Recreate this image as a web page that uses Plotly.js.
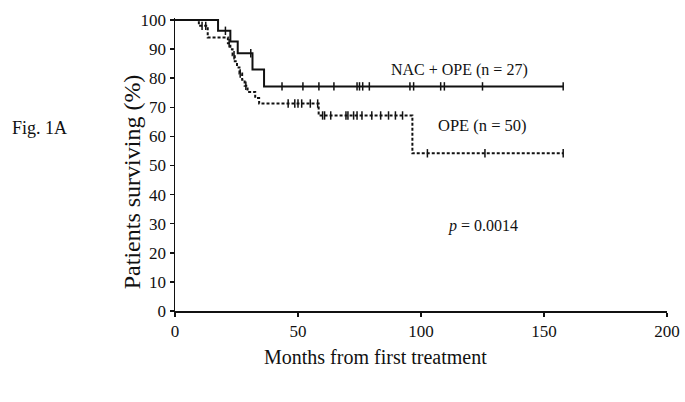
<!DOCTYPE html>
<html>
<head>
<meta charset="utf-8">
<script src="https://cdn.plot.ly/plotly-3.0.1.min.js"></script>
<style>html,body{margin:0;padding:0;background:#fff;}#chart{width:685px;height:402px;}</style>
</head>
<body>
<div id="chart"></div>
<script>
// Kaplan-Meier step data (months, % surviving)
const nacMonths = [0, 17.5, 22.5, 25.5, 31.5, 36.2, 157.8];
const nacSurv   = [100, 96.3, 92.6, 88.6, 83.0, 77.2, 77.2];
const nacCensored = [20.5, 30.8, 43.5, 52, 58.5, 64.6, 74, 75, 76.3, 79, 95.5, 97, 108, 109.5, 125, 157.8];

const opeMonths = [0, 9.7, 13.3, 21.5, 22.5, 23.4, 24.3, 25.2, 26.2, 27.3, 28.3, 29.5, 32.6, 34.2, 58.4, 96.5, 157.8];
const opeSurv   = [100, 98, 94, 92, 90, 87.9, 85.8, 83.7, 81.6, 79.5, 77.4, 75.3, 73.2, 71.3, 67.2, 54.2, 54.2];
const opeCensored = [11, 12.5, 22, 24, 26.5, 28.8, 46, 48.7, 50, 51.5, 55, 58, 60, 60.8, 63.3, 69.5, 70.3, 72.6, 74, 76, 80, 83.6, 86.8, 89.6, 92.5, 102.6, 126, 157.8];

const xTicks = [0, 50, 100, 150, 200];
const yTicks = [0, 10, 20, 30, 40, 50, 60, 70, 80, 90, 100];

function stepAt(months, surv, t) {
  let v = surv[0];
  for (let i = 0; i < months.length; i++) { if (months[i] <= t) v = surv[i]; }
  return v;
}

const FONT = 'Liberation Serif, Times New Roman, serif';
const INK = '#111';

const traces = [
  {x: nacMonths, y: nacSurv, mode: 'lines', line: {shape: 'hv', color: INK, width: 2}, name: 'NAC + OPE', hoverinfo: 'skip'},
  {x: nacCensored, y: nacCensored.map(t => stepAt(nacMonths, nacSurv, t)), mode: 'markers',
   marker: {symbol: 'line-ns', size: 6, line: {width: 1.5, color: INK}}, hoverinfo: 'skip'},
  {x: opeMonths, y: opeSurv, mode: 'lines', line: {shape: 'hv', color: INK, width: 2, dash: '3px,2px'}, name: 'OPE', hoverinfo: 'skip'},
  {x: opeCensored, y: opeCensored.map(t => stepAt(opeMonths, opeSurv, t)), mode: 'markers',
   marker: {symbol: 'line-ns', size: 6, line: {width: 1.5, color: INK}}, hoverinfo: 'skip'}
];

const layout = {
  width: 685, height: 402,
  margin: {l: 175, r: 18, t: 18, b: 91},
  paper_bgcolor: '#fff', plot_bgcolor: '#fff',
  showlegend: false,
  font: {family: FONT, color: INK},
  xaxis: {
    range: [0, 200], tickvals: xTicks, ticktext: xTicks.map(String),
    showline: true, linecolor: INK, linewidth: 1.5,
    ticks: 'outside', ticklen: 4, tickwidth: 1.5, tickcolor: INK,
    ticklabelstandoff: 0,
    showgrid: false, zeroline: false,
    tickfont: {family: FONT, size: 17, color: INK}
  },
  yaxis: {
    range: [0, 100.7], tickvals: yTicks, ticktext: yTicks.map(String),
    showline: true, linecolor: INK, linewidth: 1.5,
    ticks: 'outside', ticklen: 4, tickwidth: 1.5, tickcolor: INK,
    ticklabelstandoff: 0,
    showgrid: false, zeroline: false,
    tickfont: {family: FONT, size: 17, color: INK}
  },
  annotations: [
    {text: 'Months from first treatment', x: 0.4085, y: -0.158, xref: 'paper', yref: 'paper', xanchor: 'center', yanchor: 'middle', showarrow: false, font: {family: FONT, size: 20, color: INK}},
    {text: 'Patients surviving (%)', x: -0.087, y: 0.44, xref: 'paper', yref: 'paper', xanchor: 'center', yanchor: 'middle', textangle: -90, showarrow: false, font: {family: FONT, size: 24, color: INK}},
    {text: 'NAC + OPE (n = 27)', x: 115.7, y: 83, xref: 'x', yref: 'y', xanchor: 'center', yanchor: 'middle', showarrow: false, font: {family: FONT, size: 16, color: INK}},
    {text: 'OPE (n = 50)', x: 125, y: 63.8, xref: 'x', yref: 'y', xanchor: 'center', yanchor: 'middle', showarrow: false, font: {family: FONT, size: 16.5, color: INK}},
    {text: '<i>p</i> = 0.0014', x: 125, y: 29.3, xref: 'x', yref: 'y', xanchor: 'center', yanchor: 'middle', showarrow: false, font: {family: FONT, size: 16, color: INK}},
    {text: 'Fig. 1A', x: -0.276, y: 0.625, xref: 'paper', yref: 'paper', xanchor: 'center', yanchor: 'middle', showarrow: false, font: {family: FONT, size: 18, color: INK}}
  ]
};

Plotly.newPlot('chart', traces, layout, {displayModeBar: false, staticPlot: true});
</script>
</body>
</html>
